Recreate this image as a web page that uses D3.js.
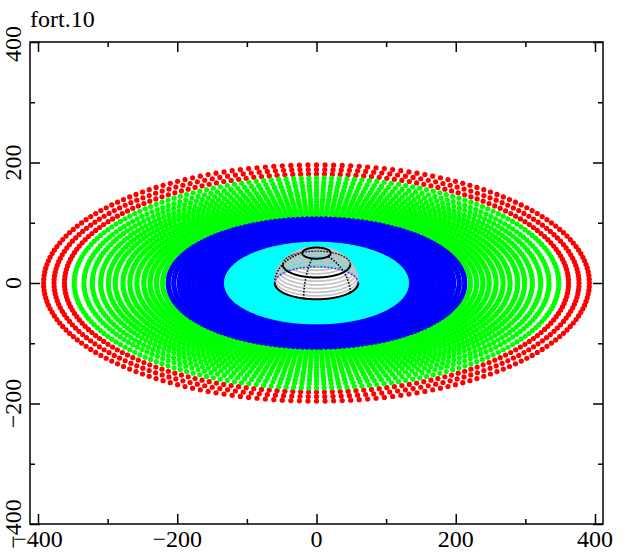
<!DOCTYPE html>
<html>
<head>
<meta charset="utf-8">
<script src="https://cdnjs.cloudflare.com/ajax/libs/d3/7.8.5/d3.min.js"></script>
<style>
body { margin: 0; background: #fff; }
svg text { font-family: "Liberation Serif", serif; font-size: 24px; fill: #000; }
</style>
</head>
<body>
<svg width="627" height="553"></svg>
<script>
// ring radii, outer to inner
var redRings = [392, 377, 362];
var greenRings = [348, 334, 322, 310, 299, 289, 278, 268, 258, 248, 239, 230, 221];
var blueRings = [213, 205, 197, 190, 183, 176, 169, 163, 157, 151, 145, 140, 135];
var cyanRings = [129, 124, 119, 114, 109, 104, 99, 94, 89, 84, 79, 74, 69, 64];
// dome
var domeRadius = 60;
var grayLats = [0, 6, 12, 18, 24, 30, 36, 42, 48, 54, 60, 66, 72];
var blackLats = [0, 36, 70];
var meridians = [180, 252, 324];
var orangeSpot = [1, 28];
var xTicks = [-400, -200, 0, 200, 400];
var yTicks = [-400, -200, 0, 200, 400];
var minorTicks = [-300, -100, 100, 300];
var title = "fort.10";

var spokes = d3.range(0, 360, 1.8);
var tilt = 0.5; // disk flattening
var domeTilt = 0.45;
var domeLift = 0.88;

var svg = d3.select("svg");
var x = d3.scaleLinear().domain([-411.5, 411.5]).range([30, 603]);
var y = d3.scaleLinear().domain([-400, 400]).range([524, 42]);

function drawRings(rings, color, r) {
    rings.forEach(function (rad) {
        svg.append("g").attr("fill", color).selectAll("circle")
            .data(spokes).join("circle")
            .attr("cx", d => x(rad * Math.cos(d * Math.PI / 180)))
            .attr("cy", d => y(tilt * rad * Math.sin(d * Math.PI / 180)))
            .attr("r", r);
    });
}
drawRings(redRings, "#ff0000", 2.6);
drawRings(greenRings, "#00ff00", 2.6);
drawRings(blueRings, "#0000ff", 2.6);
drawRings(cyanRings, "#00ffff", 2.6);

// point on the dome at latitude / longitude
function sx(lat, lon) {
    return x(domeRadius * Math.cos(lat * Math.PI / 180) * Math.cos(lon * Math.PI / 180));
}
function sy(lat, lon) {
    var la = lat * Math.PI / 180, lo = lon * Math.PI / 180;
    return y(domeTilt * domeRadius * Math.cos(la) * Math.sin(lo) + domeLift * domeRadius * Math.sin(la));
}
var lons = d3.range(0, 361, 3);
var ringLine = d3.line();

// white underlay of the dome front, then the gray latitude lines
svg.append("path")
    .attr("fill", "#fff")
    .attr("d", ringLine(lons.map(l => [sx(0, l), sy(0, l)])));
grayLats.forEach(function (lat) {
    svg.append("path")
        .attr("fill", "none").attr("stroke", "#c4c4c4").attr("stroke-width", 1.8)
        .attr("d", ringLine(lons.map(l => [sx(lat, l), sy(lat, l)])));
});
meridians.forEach(function (lon) {
    var lats = d3.range(0, 72, 3);
    svg.append("path")
        .attr("fill", "none").attr("stroke", "#000").attr("stroke-width", 1.6)
        .attr("stroke-dasharray", "1.5 1.5")
        .attr("d", ringLine(lats.map(la => [sx(la, lon), sy(la, lon)])));
});
// back of the equator shows blue
svg.append("path")
    .attr("fill", "none").attr("stroke", "#3030e0").attr("stroke-width", 1.3)
    .attr("stroke-dasharray", "2 1.5")
    .attr("d", ringLine(d3.range(0, 181, 3).map(l => [sx(0, l), sy(0, l)])));
svg.append("circle")
    .attr("cx", x(orangeSpot[0])).attr("cy", y(orangeSpot[1])).attr("r", 1.2)
    .attr("fill", "#f0a040");
blackLats.forEach(function (lat) {
    // front half solid, back half only faint dark dots
    svg.append("path")
        .attr("fill", "none").attr("stroke", "#000").attr("stroke-width", 2)
        .attr("d", ringLine(d3.range(180, 361, 3).map(l => [sx(lat, l), sy(lat, l)])));
    if (lat > 0) {
        svg.append("path")
            .attr("fill", "none").attr("stroke", lat > 50 ? "#000" : "#303030")
            .attr("stroke-width", lat > 50 ? 2 : 1.4)
            .attr("stroke-dasharray", lat > 50 ? null : "2 1")
            .attr("d", ringLine(d3.range(0, 181, 3).map(l => [sx(lat, l), sy(lat, l)])));
    }
});

// axes on all four sides
function frame(axisFn, scale, tr, major, minor) {
    var g = svg.append("g").attr("transform", tr);
    g.call(axisFn(scale).tickValues(major).tickSize(-10).tickFormat(""));
    g.call(sel => sel.select(".domain").remove());
    var g2 = svg.append("g").attr("transform", tr);
    g2.call(axisFn(scale).tickValues(minor).tickSize(-5).tickFormat(""));
    g2.call(sel => sel.select(".domain").remove());
    svg.selectAll("g.tick line").attr("stroke", "#000").attr("stroke-width", 1.5);
}
frame(d3.axisBottom, x, "translate(0,524)", xTicks, minorTicks);
frame(d3.axisLeft, y, "translate(30,0)", yTicks, minorTicks);
frame(d3.axisTop, x, "translate(0,42)", xTicks, minorTicks);
frame(d3.axisRight, y, "translate(603,0)", yTicks, minorTicks);

svg.append("rect")
    .attr("x", x.range()[0]).attr("y", y.range()[1])
    .attr("width", x.range()[1] - x.range()[0]).attr("height", y.range()[0] - y.range()[1])
    .attr("fill", "none").attr("stroke", "#000").attr("stroke-width", 1.5);

function label(v) {
    return v < 0 ? "\u2212" + Math.abs(v) : String(v);
}
svg.append("g").selectAll("text").data(xTicks).join("text")
    .attr("x", d => x(d)).attr("y", 547)
    .attr("text-anchor", "middle").text(label);
svg.append("g").selectAll("text").data(yTicks).join("text")
    .attr("transform", d => "translate(21," + (y(d) + (d === 400 ? 2 : 0)) + ") rotate(-90)")
    .attr("text-anchor", "middle").text(label);
svg.append("text").attr("x", 30).attr("y", 27).text(title);
</script>
</body>
</html>
